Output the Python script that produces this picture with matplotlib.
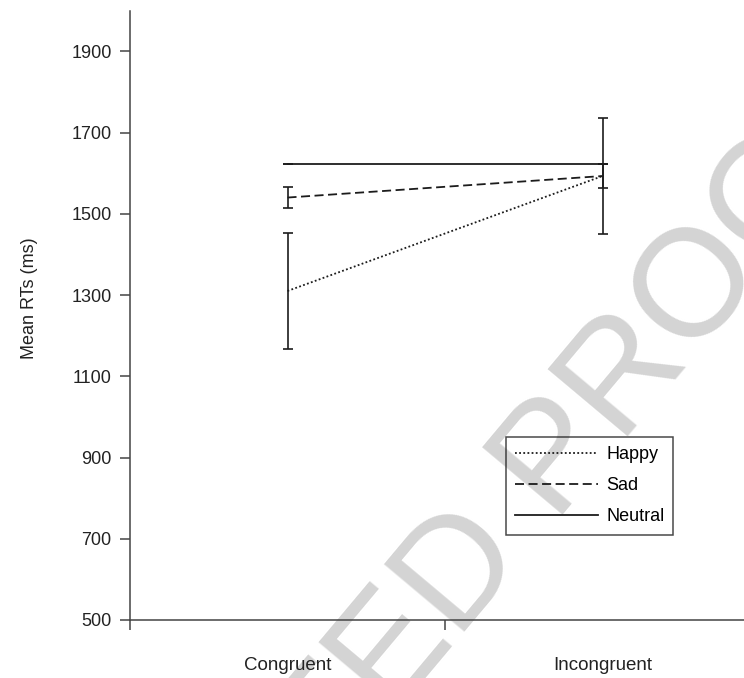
import numpy as np
import matplotlib

matplotlib.use("Agg")

import matplotlib.pyplot as plt  # noqa: E402

# Mean RTs per condition, with error bar half-widths
conditions = ["Congruent", "Incongruent"]
series = ["Happy", "Sad", "Neutral"]
happy_rt = [1310, 1593]
happy_err = [143, 142]
sad_rt = [1540, 1593]
sad_err = [26, 29]
neutral_rt = [1622, 1622]
neutral_err = [0, 0]
y_ticks = [500, 700, 900, 1100, 1300, 1500, 1700, 1900]

plt.rcParams["font.family"] = ["Liberation Sans", "DejaVu Sans"]

ink = "#1c1c1c"
axis_grey = "#444444"

fig = plt.figure(figsize=(7.44, 6.78), dpi=100)
ax = fig.add_axes([130 / 744, 58 / 678, 630 / 744, 609.3 / 678])
ax.patch.set_alpha(0)

# faint diagonal stamp, kept under the axes
fig.text(0.505, 0.0, "CORRECTED PROOF", fontsize=110, color="#d4d4d4",
         rotation=50, ha="center", va="center", zorder=-1)

x = np.array([0.5, 1.5])
styles = {
    "Happy": (happy_rt, happy_err, (0, (1, 1.3))),
    "Sad": (sad_rt, sad_err, (0, (5, 2.5))),
    "Neutral": (neutral_rt, neutral_err, "-"),
}
for name in series:
    vals, errs, ls = styles[name]
    ax.errorbar(x, vals, yerr=errs, color=ink, linestyle=ls, linewidth=1.3,
                elinewidth=1.2, capsize=3.6, capthick=1.2, label=name)

ax.set_xlim(0, 2)
ax.set_ylim(500, 2000)
ax.set_yticks(y_ticks)
ax.set_xticks([0, 1, 2])
ax.set_xticklabels([])
ax.set_xticks(x, minor=True)
ax.set_xticklabels(conditions, minor=True)
ax.tick_params(axis="x", which="minor", length=0, pad=27, labelsize=13.5,
               labelcolor="#222222")
ax.tick_params(axis="x", which="major", length=7.2, width=1.1, color=axis_grey)
ax.tick_params(axis="y", length=7.2, width=1.1, color=axis_grey, pad=6,
               labelsize=13, labelcolor="#222222")

for side in ("top", "right"):
    ax.spines[side].set_visible(False)
for side in ("left", "bottom"):
    ax.spines[side].set_color(axis_grey)
    ax.spines[side].set_linewidth(1.1)

ax.set_ylabel("Mean RTs (ms)", fontsize=13, color="#222222")
ax.yaxis.set_label_coords(-(130 - 38) / 630, (620 - 298) / 609.3)

# error bar containers give the legend line handles
handles, labels = ax.get_legend_handles_labels()
handles = [h[0] for h in handles]
leg = ax.legend(handles, labels, loc="upper right",
                bbox_to_anchor=((673.3 - 130) / 630, (620 - 437.3) / 609.3),
                borderaxespad=0, frameon=True, fancybox=False, fontsize=13,
                handlelength=4.6, handletextpad=0.45, labelspacing=0.78,
                borderpad=0.5)
leg.get_frame().set_edgecolor(ink)
leg.get_frame().set_linewidth(1.1)
leg.get_frame().set_facecolor("none")

fig.savefig("out.png", dpi=100)
